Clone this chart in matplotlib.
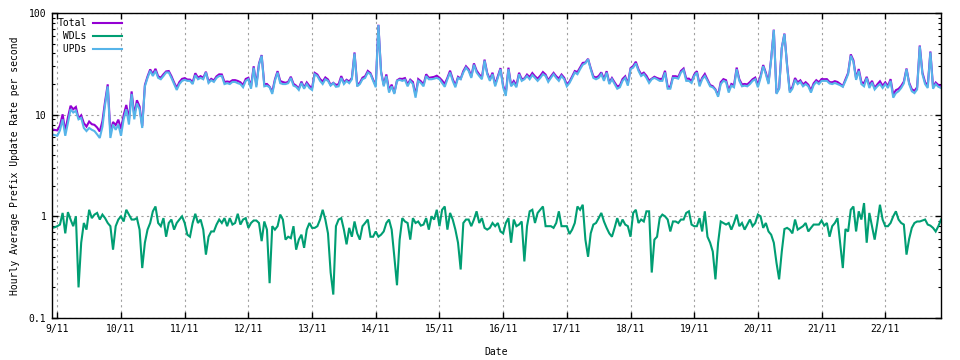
import numpy as np
import pandas as pd
import matplotlib
matplotlib.use("Agg")
import matplotlib.pyplot as plt
import matplotlib.dates as mdates
from matplotlib.ticker import LogLocator, FixedLocator, FixedFormatter, NullFormatter

# hourly samples starting 8/11 22:00
start_time = "2021-11-08 22:00"

upds = [
    6.4, 6.3,
    # 9/11
    6.2, 7.0, 9.0, 6.2, 8.3, 11.3, 10.5, 10.9, 9.0, 9.3, 7.4, 6.9,
    7.4, 7.1, 6.9, 6.4, 5.9, 7.6, 12.5, 19, 5.9, 8.0, 7.1, 8.0,
    # 10/11
    6.2, 9.0, 11.3, 8.0, 16, 9.0, 12.9, 11.3, 7.4, 19, 23, 27,
    24, 27, 23, 22.3, 24, 26, 26, 23, 20, 17.5, 20, 21.5,
    # 11/11
    22, 21.5, 21.5, 20, 24.5, 22.3, 23, 22.3, 26, 20.5, 21.8, 21,
    23, 24, 24, 20, 20.4, 20, 21, 21, 20.4, 20, 18.6, 21.5,
    # 12/11
    22.3, 18, 29, 18.6, 31, 38, 19, 19.3, 18.6, 16, 21.5, 26,
    20.4, 20, 20, 20.4, 23, 19.3, 18.8, 17.5, 20.5, 18, 20, 18.3,
    # 13/11
    17.5, 25, 24, 21.5, 20, 22.3, 21.5, 19.3, 20.4, 18.8, 19, 23,
    20, 21.5, 20.4, 22.3, 40, 19, 20, 22.3, 23, 26, 25, 21.5,
    # 14/11
    18.6, 76, 26, 19, 24, 16.5, 19, 16, 21.5, 22, 21.5, 22,
    19, 21.5, 20, 14.7, 21.5, 20.5, 19, 24, 22.3, 22.3, 22.6, 23,
    # 15/11
    22.3, 20.5, 18.8, 22.3, 26, 21.5, 18.6, 23, 22.3, 26, 29, 27,
    23, 31, 26, 24, 22.3, 34, 25, 21.5, 25, 19, 23, 28,
    # 16/11
    18.6, 15.3, 28, 19, 20.5, 18.6, 25, 21.5, 22.3, 24, 22.3, 24.5,
    23, 21.5, 23, 25, 24, 21, 23, 25, 23, 21.5, 24, 22.3,
    # 17/11
    19, 20.5, 23, 26, 25, 28, 31, 32, 35, 28, 23, 22.3,
    23, 25, 21.5, 26, 20, 22.3, 20, 18, 18.6, 21.5, 23, 19.3,
    # 18/11
    28, 29, 32, 27, 24, 25, 23, 20.5, 22.3, 23, 22.3, 21.5,
    21.5, 26, 18, 18, 23, 23, 22.6, 26, 27.5, 21.5, 21.5, 20.5,
    # 19/11
    24, 26, 19, 22.3, 24, 21.5, 19, 18.6, 17.5, 15, 20, 21.5,
    21, 16.5, 19.3, 18.6, 28, 21.5, 19, 19.3, 19, 20, 21.5, 22.3,
    # 20/11
    18.6, 23, 30, 25, 20, 35, 68, 16, 18, 45, 62, 30,
    16.5, 18, 22, 20, 21, 19, 20, 19, 16.5, 19.5, 21, 20,
    # 21/11
    21.5, 21.5, 21.5, 20.3, 20, 20.5, 20, 19.5, 18.8, 21.5, 25, 38,
    33, 22, 27, 20, 19, 23, 18.3, 20.7, 17.7, 19, 20, 18.3,
    # 22/11
    20, 18.3, 21.5, 14.7, 16.3, 17, 18.3, 20.3, 28, 20, 17, 16.3,
    17.7, 47, 25, 20, 18.3, 41, 18, 20, 18.8, 18.3,
]

wdls = [
    0.77, 0.78,
    # 9/11
    0.8, 0.83, 1.08, 0.68, 1.1, 0.93, 0.8, 1.0, 0.2, 0.55, 0.86, 0.74,
    1.16, 0.96, 1.04, 1.08, 0.93, 1.04, 0.96, 0.86, 0.8, 0.47, 0.8, 0.93,
    # 10/11
    1.0, 0.89, 1.16, 1.04, 0.93, 0.93, 0.96, 0.74, 0.31, 0.55, 0.74, 0.86,
    1.12, 1.25, 0.86, 0.8, 0.96, 0.63, 0.86, 0.93, 0.74, 0.86, 0.93, 1.0,
    # 11/11
    0.86, 0.66, 0.63, 0.86, 1.06, 0.86, 0.93, 0.74, 0.42, 0.63, 0.71, 0.71,
    0.83, 0.93, 0.86, 0.96, 0.8, 0.96, 0.83, 0.86, 1.06, 0.83, 0.93, 0.96,
    # 12/11
    0.77, 0.86, 0.91, 0.91, 0.86, 0.57, 0.89, 0.74, 0.22, 0.8, 0.74, 0.8,
    1.04, 0.93, 0.59, 0.63, 0.61, 0.8, 0.47, 0.59, 0.66, 0.49, 0.74, 0.86,
    # 13/11
    0.77, 0.77, 0.8, 0.93, 1.16, 0.93, 0.68, 0.28, 0.17, 0.8, 0.93, 0.96,
    0.74, 0.53, 0.77, 0.63, 0.89, 0.68, 0.59, 0.8, 0.86, 0.93, 0.63, 0.63,
    # 14/11
    0.71, 0.63, 0.66, 0.71, 0.86, 0.93, 0.74, 0.4, 0.21, 0.59, 0.96, 0.89,
    0.86, 0.59, 0.96, 0.86, 0.89, 0.81, 0.83, 0.96, 0.74, 1.0, 0.93, 1.16,
    # 15/11
    0.8, 1.16, 1.25, 0.74, 1.08, 0.93, 0.74, 0.55, 0.3, 0.86, 0.93, 0.93,
    0.8, 0.93, 1.12, 0.86, 0.96, 0.77, 0.74, 0.77, 0.86, 0.8, 0.86, 0.71,
    # 16/11
    0.68, 0.86, 0.96, 0.55, 0.93, 0.8, 0.83, 0.89, 0.36, 0.8, 1.12, 1.16,
    0.86, 1.08, 1.16, 1.25, 0.8, 0.8, 0.8, 0.77, 0.86, 1.12, 0.8, 0.8,
    # 17/11
    0.8, 0.67, 0.74, 0.86, 1.25, 1.16, 1.3, 0.59, 0.4, 0.68, 0.83, 0.86,
    0.96, 1.08, 0.89, 0.77, 0.68, 0.63, 0.77, 0.96, 0.8, 0.93, 0.83, 0.8,
    # 18/11
    0.63, 1.08, 1.16, 0.86, 0.93, 0.89, 1.12, 1.12, 0.28, 0.59, 0.63, 0.96,
    1.04, 1.0, 0.93, 0.71, 0.89, 0.89, 0.86, 0.93, 0.93, 1.08, 1.12, 0.83,
    # 19/11
    0.8, 0.8, 0.96, 0.71, 1.12, 0.63, 0.55, 0.45, 0.24, 0.55, 0.89, 0.86,
    0.83, 0.86, 0.74, 0.86, 1.04, 0.8, 0.86, 0.74, 0.83, 0.93, 0.8, 0.86,
    # 20/11
    1.04, 1.0, 0.77, 0.86, 0.71, 0.66, 0.55, 0.35, 0.24, 0.45, 0.75, 0.77,
    0.74, 0.68, 0.93, 0.74, 0.77, 0.8, 0.86, 0.71, 0.77, 0.83, 0.83, 0.83,
    # 21/11
    0.91, 0.81, 0.86, 0.63, 0.8, 0.86, 0.96, 0.55, 0.31, 0.75, 0.71, 1.16,
    1.25, 0.71, 1.12, 0.93, 1.35, 0.55, 1.08, 0.8, 0.59, 0.86, 1.3, 0.93,
    # 22/11
    0.8, 0.8, 0.86, 1.0, 1.12, 0.93, 0.86, 0.83, 0.42, 0.6, 0.77, 0.86,
    0.89, 0.89, 0.91, 0.93, 0.83, 0.81, 0.77, 0.71, 0.8, 0.93,
]

day_ticks = ["9/11", "10/11", "11/11", "12/11", "13/11", "14/11", "15/11",
             "16/11", "17/11", "18/11", "19/11", "20/11", "21/11", "22/11"]
y_ticks = [0.1, 1, 10, 100]
y_tick_labels = ["0.1", "1", "10", "100"]

upds = np.array(upds)
wdls = np.array(wdls)
total = upds + wdls
times = pd.date_range(start_time, periods=len(upds), freq="h")
tick_times = pd.date_range("2021-11-09", periods=len(day_ticks), freq="D")

plt.rcParams["font.family"] = ["DejaVu Sans Mono"]
plt.rcParams["font.size"] = 7

fig = plt.figure(figsize=(9.6, 3.6), dpi=100)
ax = fig.add_axes([52 / 960, 1 - 318 / 360, (941 - 52) / 960, (318 - 13) / 360])

lw = 1.5
ax.plot(times, total, color="#9400D3", lw=lw, label="Total", solid_joinstyle="miter")
ax.plot(times, wdls, color="#009E73", lw=lw, label=" WDLs", solid_joinstyle="miter")
ax.plot(times, upds, color="#56B4E9", lw=lw, label=" UPDs", solid_joinstyle="miter")

ax.set_yscale("log")
ax.set_ylim(0.1, 100)
ax.set_xlim(times[0], times[-1])

ax.yaxis.set_major_locator(FixedLocator(y_ticks))
ax.yaxis.set_major_formatter(FixedFormatter(y_tick_labels))
ax.yaxis.set_minor_locator(LogLocator(base=10, subs=np.arange(2, 10)))
ax.yaxis.set_minor_formatter(NullFormatter())

ax.xaxis.set_major_locator(FixedLocator(mdates.date2num(tick_times)))
ax.xaxis.set_major_formatter(FixedFormatter(day_ticks))

ax.tick_params(axis="both", which="major", direction="in", length=4, width=1,
               top=True, right=True, labelsize=7, pad=4, colors="black")
ax.tick_params(axis="y", which="minor", direction="in", length=2, width=0.8,
               left=True, right=True)
ax.tick_params(axis="x", which="minor", bottom=False, top=False)

ax.grid(True, which="major", color="#a0a0a0", linestyle=(0, (2, 3)), linewidth=0.8)
for s in ax.spines.values():
    s.set_linewidth(1)
    s.set_color("black")

ax.set_xlabel("Date", fontsize=7, labelpad=10)
ax.set_ylabel("Hourly Average Prefix Update Rate per second", fontsize=7, labelpad=6)

leg = ax.legend(loc="upper left", frameon=False, markerfirst=False, handlelength=3.0,
                handletextpad=0.6, labelspacing=0.3, borderaxespad=0.15, fontsize=7)

fig.savefig("out.png", dpi=100)
